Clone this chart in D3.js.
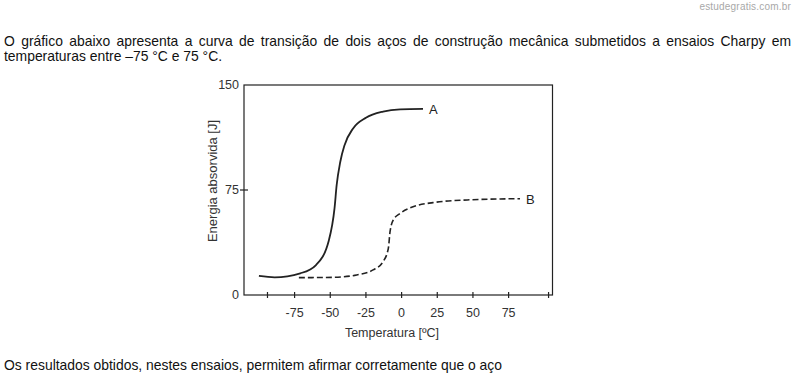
<!DOCTYPE html>
<html>
<head>
<meta charset="utf-8">
<script src="https://cdn.jsdelivr.net/npm/d3@7"></script>
<style>
  body { margin: 0; background: #fff; width: 795px; height: 377px; overflow: hidden; position: relative; font-family: "Liberation Sans", Arial, sans-serif; }
  .site { position: absolute; right: 4px; top: 1px; font-size: 10px; color: #a8a8a8; letter-spacing: 0.2px; }
  .para { position: absolute; left: 4px; width: 787px; font-size: 13.9px; line-height: 15px; color: #111; text-align: justify; }
  .chart text { font-family: "Liberation Sans", Arial, sans-serif; fill: #333; }
</style>
</head>
<body>
<div class="site">estudegratis.com.br</div>
<div class="para" style="top:34px">O gráfico abaixo apresenta a curva de transição de dois aços de construção mecânica submetidos a ensaios Charpy em temperaturas entre –75 °C e 75 °C.</div>
<div class="para" style="top:358px">Os resultados obtidos, nestes ensaios, permitem afirmar corretamente que o aço</div>
<script>
(function(){

  //curve A (solid) - temperature / energy
  var tempA   = [-100, -89, -71, -60, -51, -47, -45.5, -43, -40, -34, -25, -13, -1, 15];
  var energyA = [13.6, 12.6, 15.5, 21.4, 39, 62, 78.6, 95, 107, 119, 126.6, 131, 132.6, 132.9];

  //curve B (dashed)
  var tempB   = [-72, -48, -31.5, -20, -13, -9.3, -8.1, -5.8, -1, 8, 22, 46, 69, 83];
  var energyB = [12.4, 12.6, 14.3, 17.9, 23.8, 33.3, 45.2, 53.6, 58.3, 63, 66, 67.9, 68.6, 68.8];

  //axis ticks
  var xTicks = [-94, -75, -50, -25, 0, 25, 50, 75, 103];
  var xLabels = ["", "-75", "-50", "-25", "0", "25", "50", "75", ""];
  var yTicks = [0, 75, 150];

  var curveLabels = ["A", "B"];

  //svg container
  var svg = d3.select("body")
      .append("svg")
      .attr("class", "chart")
      .style("position", "absolute")
      .style("left", 0)
      .style("top", 0)
      .attr("width", 795)
      .attr("height", 377);

  //plot frame
  var left = 244, right = 552.5, top = 85, bottom = 295;

  var x = d3.scaleLinear()
      .domain([0, 25])
      .range([401.6, 401.6 + 35.67]);
  var y = d3.scaleLinear()
      .domain([0, 150])
      .range([bottom, top]);

  //frame
  svg.append("rect")
      .attr("x", left)
      .attr("y", top)
      .attr("width", right - left)
      .attr("height", bottom - top)
      .attr("fill", "none")
      .attr("stroke", "#222")
      .attr("stroke-width", 1.2);

  //x ticks
  svg.selectAll(".xtick")
      .data(xTicks)
      .enter()
      .append("line")
      .attr("class", "xtick")
      .attr("x1", function(d){ return x(d); })
      .attr("x2", function(d){ return x(d); })
      .attr("y1", bottom - 3)
      .attr("y2", bottom + 3)
      .attr("stroke", "#222")
      .attr("stroke-width", 1.2);

  svg.selectAll(".xlab")
      .data(xTicks)
      .enter()
      .append("text")
      .attr("class", "xlab")
      .attr("x", function(d){ return x(d); })
      .attr("y", 317)
      .attr("text-anchor", "middle")
      .attr("font-size", 12.5)
      .text(function(d, i){ return xLabels[i]; });

  //y ticks (only 75 draws a mark)
  svg.selectAll(".ytick")
      .data(yTicks.filter(function(d){ return d > 0 && d < 150; }))
      .enter()
      .append("line")
      .attr("class", "ytick")
      .attr("x1", left - 4)
      .attr("x2", left + 4)
      .attr("y1", function(d){ return y(d); })
      .attr("y2", function(d){ return y(d); })
      .attr("stroke", "#222")
      .attr("stroke-width", 1.2);

  svg.selectAll(".ylab")
      .data(yTicks)
      .enter()
      .append("text")
      .attr("class", "ylab")
      .attr("x", 239)
      .attr("y", function(d){ return y(d) + 4; })
      .attr("text-anchor", "end")
      .attr("font-size", 12.5)
      .text(function(d){ return d; });

  //axis titles
  svg.append("text")
      .attr("x", 392)
      .attr("y", 337)
      .attr("text-anchor", "middle")
      .attr("font-size", 12.5)
      .text("Temperatura [ºC]");

  svg.append("text")
      .attr("transform", "translate(217,181) rotate(-90)")
      .attr("text-anchor", "middle")
      .attr("font-size", 13)
      .text("Energia absorvida [J]");

  //curves
  var line = d3.line()
      .x(function(d){ return x(d[0]); })
      .y(function(d){ return y(d[1]); })
      .curve(d3.curveMonotoneX);

  var dataA = d3.zip(tempA, energyA),
      dataB = d3.zip(tempB, energyB);

  svg.append("path")
      .datum(dataA)
      .attr("d", line)
      .attr("fill", "none")
      .attr("stroke", "#222")
      .attr("stroke-width", 1.8);

  svg.append("path")
      .datum(dataB)
      .attr("d", line)
      .attr("fill", "none")
      .attr("stroke", "#222")
      .attr("stroke-width", 1.6)
      .attr("stroke-dasharray", "6,3");

  //curve labels
  var ends = [dataA[dataA.length - 1], dataB[dataB.length - 1]];
  svg.selectAll(".clab")
      .data(ends)
      .enter()
      .append("text")
      .attr("class", "clab")
      .attr("x", function(d){ return x(d[0]) + 6; })
      .attr("y", function(d){ return y(d[1]) + 5; })
      .attr("font-size", 13)
      .style("fill", "#222")
      .text(function(d, i){ return curveLabels[i]; });

})();
</script>
</body>
</html>
